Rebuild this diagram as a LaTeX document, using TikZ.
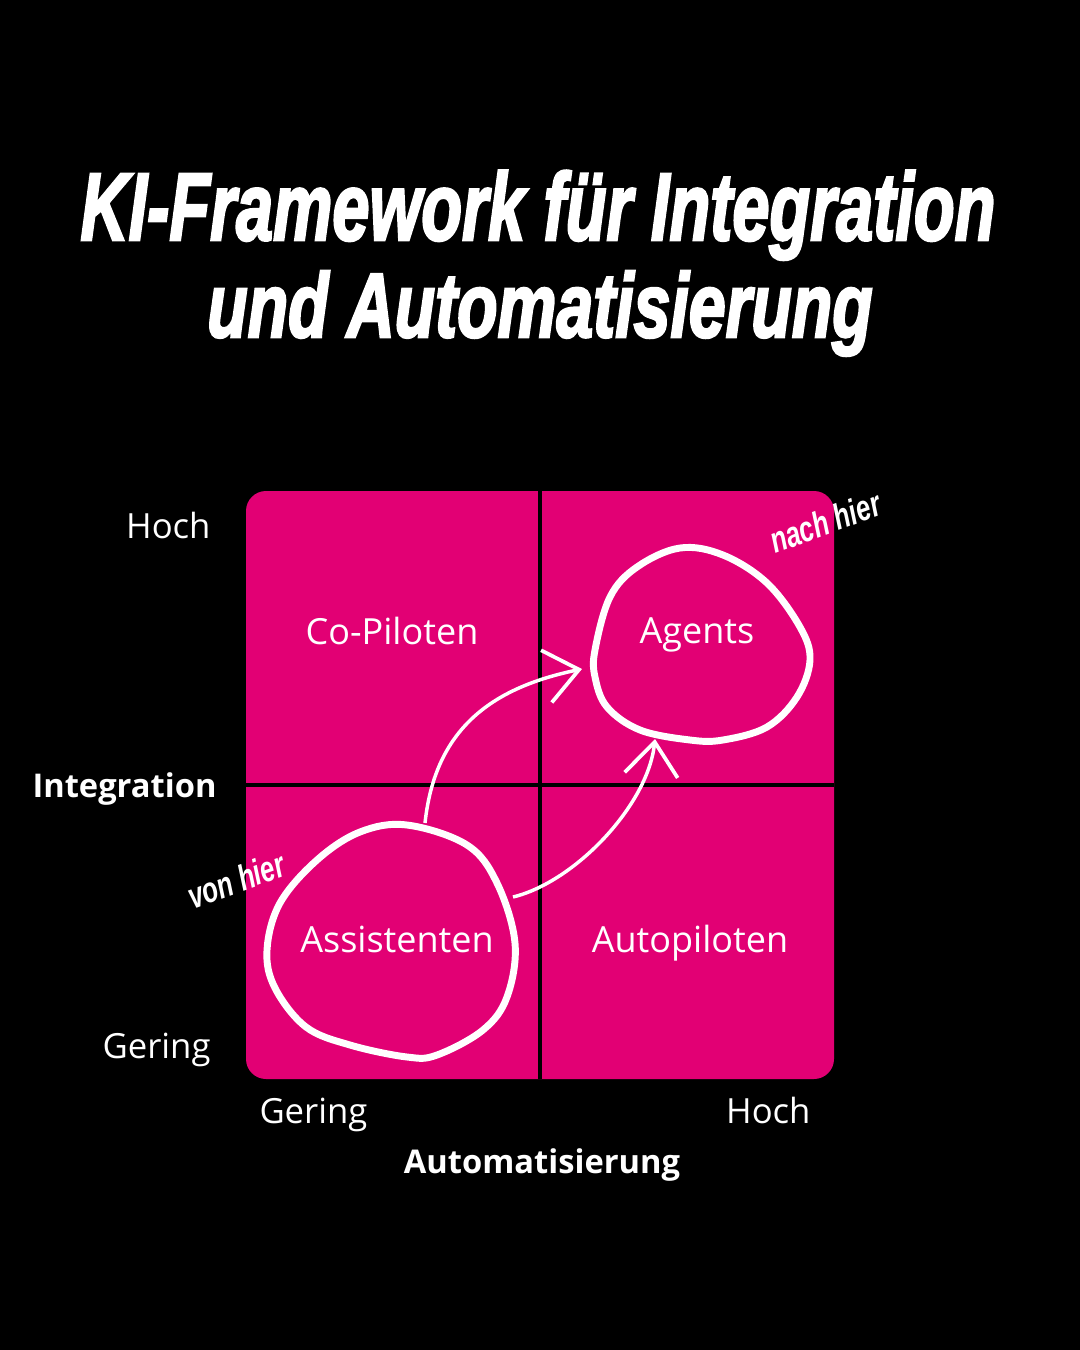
\documentclass[tikz,border=0pt]{standalone}
\usepackage{fontspec}
\usetikzlibrary{arrows.meta}
\setmainfont{Open Sans}
\newfontfamily\titlefont[FakeBold=3]{Liberation Sans Bold Italic}
\newfontfamily\handfont[FakeStretch=0.72]{Liberation Sans Bold Italic}
\definecolor{kipink}{RGB}{226,0,116}

\tikzset{every picture/.style={line width=0.75pt}}

\begin{document}
\begin{tikzpicture}[x=0.75pt,y=0.75pt,yscale=-1,xscale=1,
  celltext/.style={text=white,inner sep=0pt,font=\fontsize{27}{32}\selectfont},
  axistext/.style={text=white,inner sep=0pt,font=\fontsize{26}{31}\selectfont},
  axisname/.style={text=white,inner sep=0pt,font=\fontsize{24.5}{29}\selectfont\bfseries},
  hand/.style={text=white,inner sep=0pt,rotate=20,font=\fontsize{27}{30}\selectfont\handfont},
  blob/.style={draw=white,line width=5.2pt},
  flow/.style={draw=white,line width=2.6pt,-{Straight Barb[length=25pt,width=40pt,line width=2.8pt]}},
  divider/.style={draw=black,line width=3pt}]
\useasboundingbox (0,0) rectangle (1080,1350);

%Shape: Rectangle [background]
\fill [black] (0,0) rectangle (1080,1350);
%Shape: Rounded Rect [matrix]
\fill [kipink, rounded corners=15pt] (246,491) rectangle (834,1079);
%Straight Lines [dividers]
\draw [divider] (540,491) -- (540,1079);
\draw [divider] (246,785) -- (834,785);

%Shape: Free Drawing [Assistenten blob]
\draw [blob] plot [smooth cycle, tension=0.6] coordinates {(407,825) (467,845) (497,883) (515,943) (507,997) (483,1030) (437,1055) (407,1057) (350,1045) (306,1027) (275,988) (267,950) (280,903) (317,860) (360,832)};
%Shape: Free Drawing [Agents blob]
\draw [blob] plot [smooth cycle, tension=0.6] coordinates {(680,548) (723,555) (767,583) (800,627) (810,660) (797,697) (767,727) (723,740) (690,740) (640,730) (607,707) (595,677) (595,650) (610,597) (637,567)};

% Arrow ends
\coordinate (asst-top) at (425,823);
\coordinate (asst-right) at (513,897);
\coordinate (agents-left) at (582,669);
\coordinate (agents-bottom) at (655,739);

%Curve Lines [flows]
\draw [flow] (asst-top) .. controls (435,730) and (490,688) .. (agents-left);
\draw [flow] (asst-right) .. controls (575,882) and (648,805) .. (agents-bottom);

% Text Node
\node [anchor=base, inner sep=0pt, text=white] (title1) at (538,240) {\resizebox{686pt}{52pt}{\titlefont KI-Framework für Integration}};
% Text Node
\node [anchor=base, inner sep=0pt, text=white] (title2) at (540,337) {\resizebox{499pt}{49.5pt}{\titlefont und Automatisierung}};

% Text Node
\node [celltext, anchor=base] (copiloten) at (392,644) {Co-Piloten};
% Text Node
\node [celltext, anchor=base] (agents) at (697,643) {Agents};
% Text Node
\node [celltext, anchor=base] (assistenten) at (397,952) {Assistenten};
% Text Node
\node [celltext, anchor=base] (autopiloten) at (690,952) {Autopiloten};

% Text Node
\node [axistext, anchor=base east] (y-high) at (211,538) {Hoch};
% Text Node
\node [axisname, anchor=base east] (y-name) at (217,797) {Integration};
% Text Node
\node [axistext, anchor=base east] (y-low) at (211,1058) {Gering};
% Text Node
\node [axistext, anchor=base west] (x-low) at (259,1123) {Gering};
% Text Node
\node [axistext, anchor=base east] (x-high) at (811,1123) {Hoch};
% Text Node
\node [axisname, anchor=base] (x-name) at (542,1173) {Automatisierung};

% Text Node
\node [hand] (von-hier) at (236,880) {von hier};
% Text Node
\node [hand] (nach-hier) at (825,522) {nach hier};

\end{tikzpicture}
\end{document}
